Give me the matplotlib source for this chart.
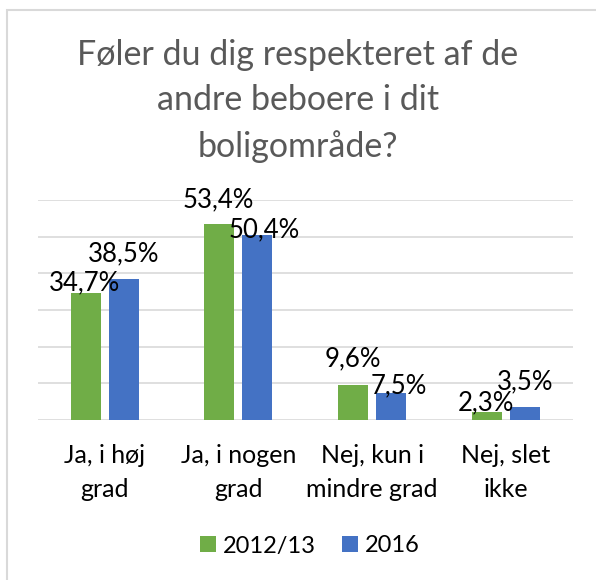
import numpy as np
import matplotlib.pyplot as plt
from matplotlib.patches import Rectangle

categories = ['Ja, i høj\ngrad', 'Ja, i nogen\ngrad', 'Nej, kun i\nmindre grad', 'Nej, slet\nikke']
series_names = ['2012/13', '2016']
values_1213 = [34.7, 53.4, 9.6, 2.3]
values_2016 = [38.5, 50.4, 7.5, 3.5]
colors = ['#70AD47', '#4472C4']
title = 'Føler du dig respekteret af de\nandre beboere i dit\nboligområde?'

# label baseline offsets (pixels) to mimic excel's label placement
offs_1213 = [(-1, 2), (-1, 17), (0, 18), (-1, 1)]
offs_2016 = [(0, 18), (7, -2), (8, -1), (0, 18)]

plt.rcParams['font.family'] = ['Lato', 'DejaVu Sans']

W, H = 596, 580
fig = plt.figure(figsize=(W / 100, H / 100), dpi=100)

# chart border (only left/top visible in the crop)
fig.patches.append(Rectangle((7 / W, -0.1), 1.2, 1.1 - 10 / H, transform=fig.transFigure,
                             fill=False, edgecolor='#d9d9d9', linewidth=1.5))

ax = fig.add_axes([37.7 / W, 1 - 420 / H, (572.7 - 37.7) / W, (420 - 200) / H])
x = np.arange(len(categories))
bw = 0.224
gap = 0.06
b1 = ax.bar(x - (bw + gap) / 2, values_1213, bw, color=colors[0], label=series_names[0], zorder=3)
b2 = ax.bar(x + (bw + gap) / 2, values_2016, bw, color=colors[1], label=series_names[1], zorder=3)

for bars, vals, offs in [(b1, values_1213, offs_1213), (b2, values_2016, offs_2016)]:
    for rect, v, o in zip(bars, vals, offs):
        ax.annotate('{:.1f}%'.format(v).replace('.', ','),
                    (rect.get_x() + rect.get_width() / 2, rect.get_height()),
                    xytext=o, textcoords='offset pixels', ha='center', va='baseline',
                    fontsize=18.5, color='black', zorder=4)

ax.set_ylim(0, 60)
ax.set_xlim(-0.5, len(categories) - 0.5)
ax.set_yticks(np.arange(0, 61, 10))
ax.yaxis.grid(True, color='#d9d9d9', linewidth=1.2, zorder=0)
ax.tick_params(axis='y', left=False, labelleft=False)
ax.tick_params(axis='x', bottom=False, labelsize=18, pad=14)
ax.set_xticks(x)
ax.set_xticklabels(categories, linespacing=1.55)
for s in ax.spines.values():
    s.set_visible(False)

fig.text(0.5, 1 - 101 / H, title, ha='center', va='center', fontsize=24.5,
         color='#595959', linespacing=1.5)

fig.legend(loc='center', bbox_to_anchor=(0.5 + 12 / W, 1 - 546 / H), ncol=2, frameon=False,
           fontsize=17, handlelength=0.68, handleheight=0.68, handletextpad=0.3,
           columnspacing=1.1)

fig.savefig('out.png', dpi=100)
